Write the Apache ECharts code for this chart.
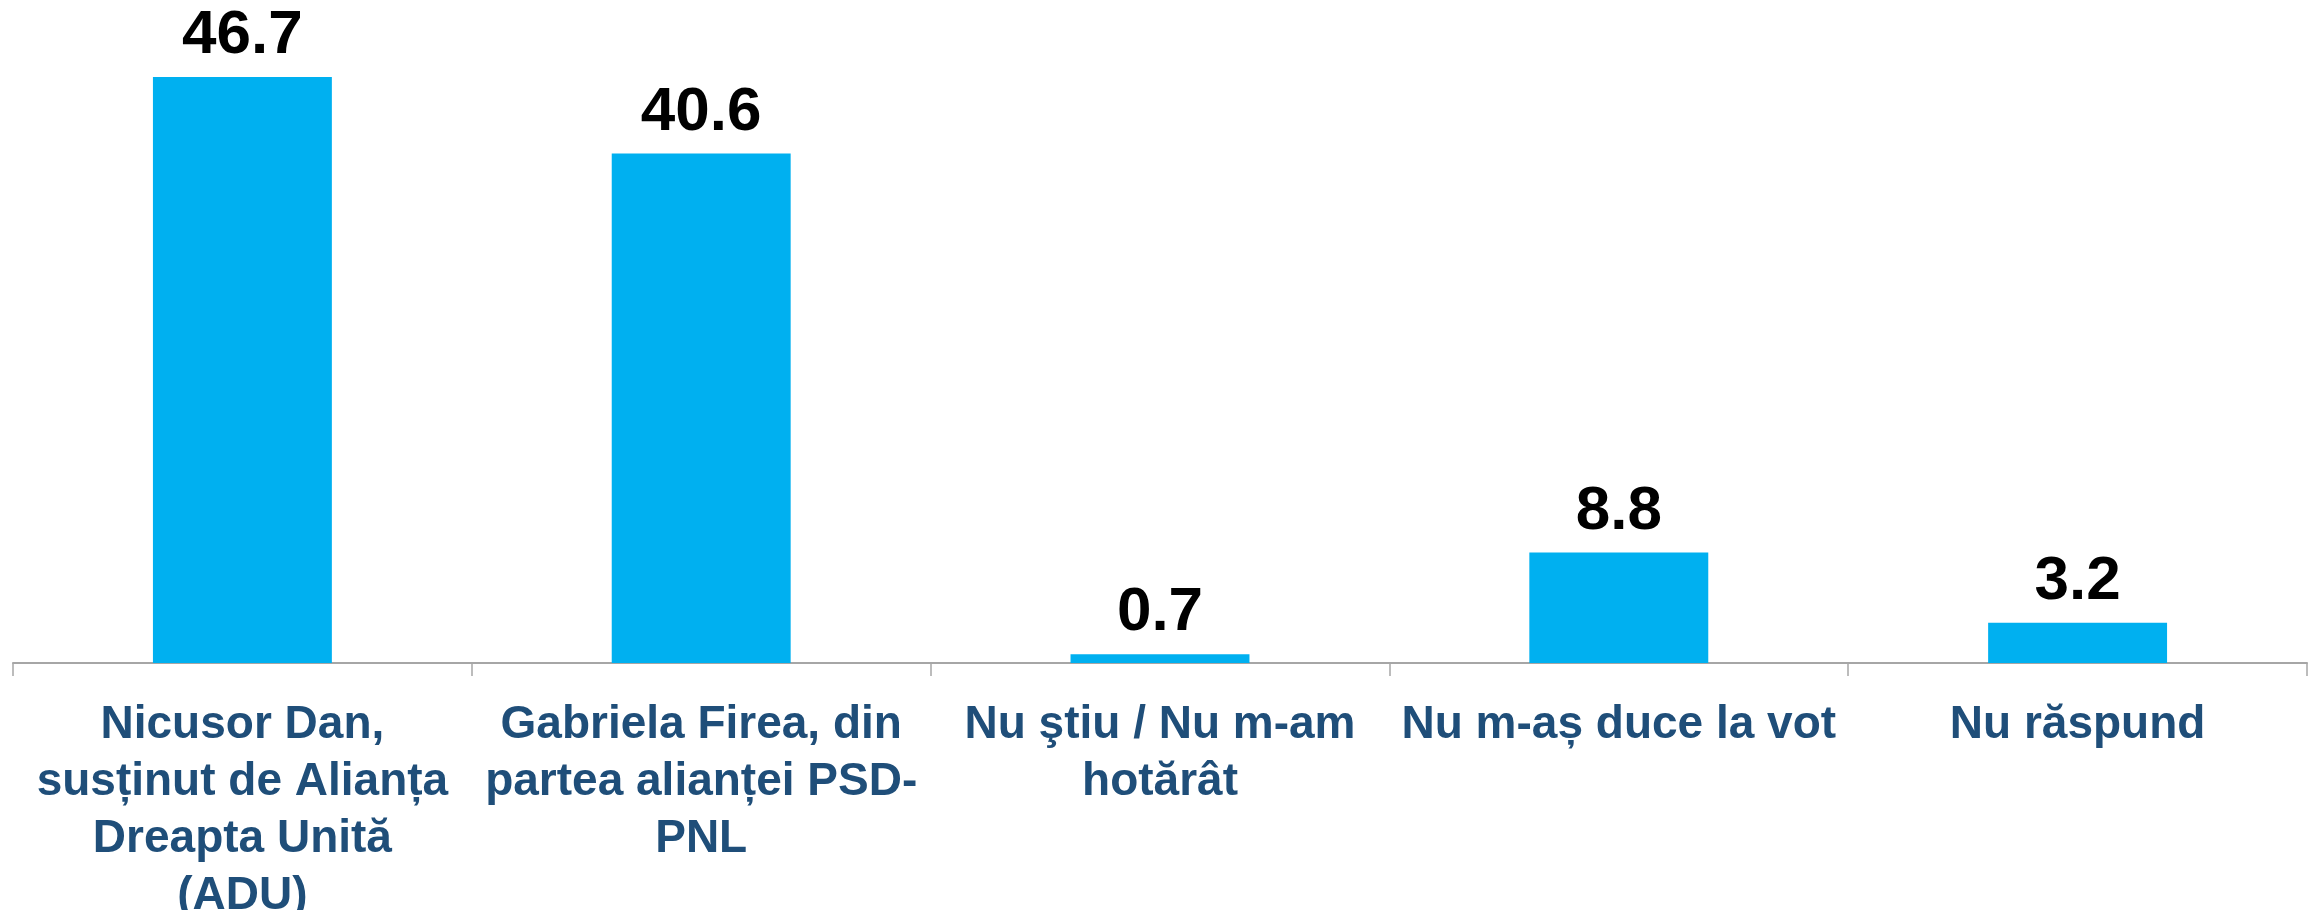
<!DOCTYPE html>
<html>
<head>
<meta charset="utf-8">
<script src="https://cdn.jsdelivr.net/npm/echarts@6/dist/echarts.min.js"></script>
<style>
html,body{margin:0;padding:0;background:#fff;}
#c{width:2318px;height:910px;}
</style>
</head>
<body>
<div id="c"></div>
<script>
const categories = [
  "Nicusor Dan,\nsusținut de Alianța\nDreapta Unită\n(ADU)",
  "Gabriela Firea, din\npartea alianței PSD-\nPNL",
  "Nu ştiu / Nu m-am\nhotărât",
  "Nu m-aș duce la vot",
  "Nu răspund"
];
const values = [46.7, 40.6, 0.7, 8.8, 3.2];

const chart = echarts.init(document.getElementById('c'), null, {renderer: 'canvas'});
chart.setOption({
  animation: false,
  backgroundColor: '#ffffff',
  grid: {left: 13, right: 11, top: 35.5, bottom: 247, containLabel: false, outerBoundsMode: 'none'},
  xAxis: {
    type: 'category',
    data: categories,
    axisLine: {show: true, lineStyle: {color: '#A6A6A6', width: 2}},
    axisTick: {show: true, length: 13, lineStyle: {color: '#A6A6A6', width: 1.5}},
    axisLabel: {
      interval: 0,
      margin: 34,
      color: '#1F4E79',
      fontFamily: 'Liberation Sans, Arial, sans-serif',
      fontWeight: 'bold',
      fontSize: 46,
      lineHeight: 57,
      align: 'center'
    }
  },
  yAxis: {
    type: 'value',
    min: 0,
    max: 50,
    show: false,
    splitLine: {show: false}
  },
  series: [{
    type: 'bar',
    data: values,
    barCategoryGap: '61%',
    itemStyle: {color: '#00B0F0'},
    label: {
      show: true,
      position: 'top',
      distance: 10,
      color: '#000000',
      fontFamily: 'Liberation Sans, Arial, sans-serif',
      fontWeight: 'bold',
      fontSize: 62,
      formatter: p => p.value.toFixed(1)
    }
  }]
});
</script>
</body>
</html>
